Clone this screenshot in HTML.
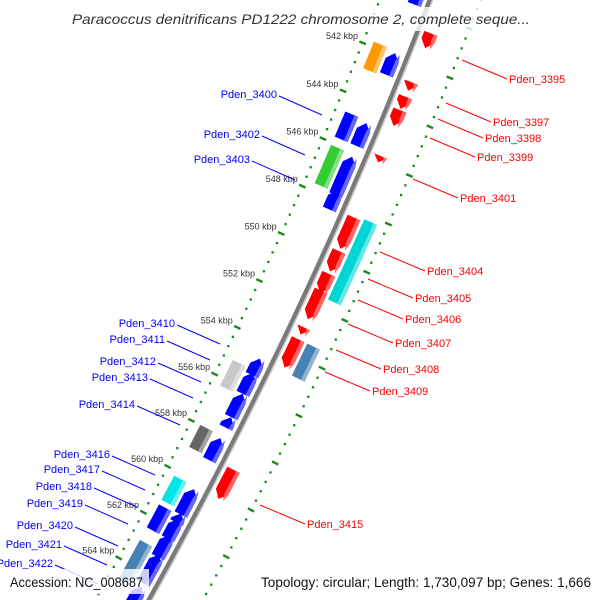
<!DOCTYPE html>
<html><head><meta charset="utf-8"><style>
html,body{margin:0;padding:0;background:#fff;overflow:hidden;}
svg{display:block;font-family:"Liberation Sans",sans-serif;}
</style></head><body>
<svg id="map" width="600" height="600" viewBox="0 0 600 600" xmlns="http://www.w3.org/2000/svg">
<rect width="600" height="600" fill="#fff"/>
<g id="rulers"></g>
<g id="backbone"></g>
<g id="genes"></g>
<g id="labels"></g>
<rect x="0" y="7" width="600" height="24" fill="#fff" opacity="0.8"/>
<text x="301" y="24" text-anchor="middle" font-size="14" font-style="italic" fill="#333" textLength="458" lengthAdjust="spacingAndGlyphs">Paracoccus denitrificans PD1222 chromosome 2, complete seque...</text>
<rect x="3" y="569" width="146" height="25" fill="#fff" opacity="0.8"/>
<text x="10" y="587" font-size="13.5" fill="#111" textLength="133" lengthAdjust="spacingAndGlyphs">Accession: NC_008687</text>
<text x="261" y="587" font-size="13.5" fill="#111" textLength="330" lengthAdjust="spacingAndGlyphs">Topology: circular; Length: 1,730,097 bp; Genes: 1,666</text>
</svg>
<script>
// ---- data ----
const blueInner = [[539.0,539.9],[541.9,542.8],[544.8,545.75],[546.2,547.8],[547.6,548.4],[554.7,555.4],[555.3,556.2],[556.2,557.2],[557.2,557.65],[558.1,559.05],[560.3,561.4],[561.35,561.75],[561.6,562.45],[562.3,563.25],[563.15,564.4],[564.55,565.4]];
const leftOuterStarts = [541.8,544.7,546.1,555.2,558.0,560.2,561.45,563.0];
const leftOuterEnds = [542.9,545.75,547.7,556.3,558.95,561.25,562.45,564.7];
const leftOuterColors = ["#ff9900","#0000ff","#33cc33","#c8c8c8","#666666","#00e5e5","#0000ff","#4682b4"];
const redInner = [[540.7,541.3],[542.7,543.05],[543.3,543.8],[543.85,544.5],[545.75,546.0],[548.3,549.6],[549.7,550.55],[550.65,551.45],[551.35,552.55],[552.9,553.2],[553.4,554.6],[558.95,560.2]];
const rightOuterStarts = [548.2,549.6,553.4];
const rightOuterEnds = [549.6,551.55,554.75];
const rightOuterColors = ["#00d5d5","#00d5d5","#4682b4"];
const majorTicks = [540,542,544,546,548,550,552,554,556,558,560,562,564,566];
const tickLabels = ["","542 kbp","544 kbp","546 kbp","548 kbp","550 kbp","552 kbp","554 kbp","556 kbp","558 kbp","560 kbp","562 kbp","564 kbp",""];
const rightLabels = ["Pden_3395","Pden_3397","Pden_3398","Pden_3399","Pden_3401","Pden_3404","Pden_3405","Pden_3406","Pden_3407","Pden_3408","Pden_3409","Pden_3415"];
const rightLabelX = [509,493,485,477,460,427,415,405,395,383,372,307];
const rightLabelY = [79,122,138,157,198,271,298,319,343,369,391,524];
const leftLabels = ["Pden_3400","Pden_3402","Pden_3403","Pden_3410","Pden_3411","Pden_3412","Pden_3413","Pden_3414","Pden_3416","Pden_3417","Pden_3418","Pden_3419","Pden_3420","Pden_3421","Pden_3422"];
const leftLabelX = [277,260,250,175,165,156,148,135,110,100,92,83,73,62,53];
const leftLabelY = [94,134,159,323,339,361,377,404,454,469,486,503,525,544,563];

// ---- geometry ----
const CX=-3972, CY=-1695, R=4717;
function th(k){return 0.4479+(k-554)*0.00555;}
function P(k,d){const t=th(k);return [CX+(R+d)*Math.cos(t), CY+(R+d)*Math.sin(t)];}
const NS="http://www.w3.org/2000/svg";
function mk(tag,parent){const e=document.createElementNS(NS,tag);parent.appendChild(e);return e;}
function poly(pts){return pts.map(p=>p[0].toFixed(1)+","+p[1].toFixed(1)).join(" ");}
function arcPts(k1,k2,d){const n=4,out=[];for(let i=0;i<=n;i++){out.push(P(k1+(k2-k1)*i/n,d));}return out;}
function shape(k1,k2,r1,r2,dir){
  const h=0.3, mid=(r1+r2)/2;
  if(dir===0){return arcPts(k1,k2,r1).concat(arcPts(k2,k1,r2));}
  if(dir>0){
    if(k2-k1<=h) return [P(k1,r1),P(k2,mid),P(k1,r2)];
    return arcPts(k1,k2-h,r1).concat([P(k2,mid)]).concat(arcPts(k2-h,k1,r2));
  }
  if(k2-k1<=h) return [P(k2,r1),P(k1,mid),P(k2,r2)];
  return arcPts(k2,k1+h,r1).concat([P(k1,mid)]).concat(arcPts(k1+h,k2,r2));
}
function lighten(c){
  const n=parseInt(c.slice(1),16);let r=n>>16,g=(n>>8)&255,b=n&255;
  r=Math.round(r+(255-r)*0.4);g=Math.round(g+(255-g)*0.4);b=Math.round(b+(255-b)*0.4);
  return "rgb("+r+","+g+","+b+")";
}

// rulers
const rul=document.getElementById('rulers');
[-47,47].forEach(function(d){
  for(let i=0;i<=75;i++){
    const k=538+i*0.4;
    if(Math.abs((k/2)-Math.round(k/2))<0.01) continue;
    const p=P(k,d);
    const dot=mk('rect',rul);
    
    
    dot.setAttribute('x',(p[0]-1.1).toFixed(1));dot.setAttribute('y',(p[1]-1.1).toFixed(1));
    dot.setAttribute('width','2.3');dot.setAttribute('height','2.3');dot.setAttribute('fill','#1a8a1a');
  }
  majorTicks.forEach(function(k,i){
    const a=P(k,d-3.5),b=P(k,d+3.5);
    const ln=mk('line',rul);
    
    
    ln.setAttribute('x1',a[0]);ln.setAttribute('y1',a[1]);ln.setAttribute('x2',b[0]);ln.setAttribute('y2',b[1]);
    ln.setAttribute('stroke','#1a8a1a');ln.setAttribute('stroke-width','2.4');
    if(d<0 && tickLabels[i]){
      const q=P(k,-52);
      const t=mk('text',rul);
      
      
      t.setAttribute('x',(q[0]).toFixed(1));t.setAttribute('y',(q[1]-2).toFixed(1));
      t.setAttribute('text-anchor','end');t.setAttribute('font-size','9');t.setAttribute('fill','#333');
      t.textContent=tickLabels[i];
    }
  });
});

// backbone
const bb=document.getElementById('backbone');
function arcPath(k1,k2,d){let s="";for(let i=0;i<=40;i++){const p=P(k1+(k2-k1)*i/40,d);s+=(i?"L":"M")+p[0].toFixed(1)+" "+p[1].toFixed(1);}return s;}
const b1=mk('path',bb);


b1.setAttribute('d',arcPath(537,567,0));b1.setAttribute('stroke','#7a7a7a');b1.setAttribute('stroke-width','5');b1.setAttribute('fill','none');
const b2=mk('path',bb);


b2.setAttribute('d',arcPath(537,567,2.5));b2.setAttribute('stroke','#c8c8c8');b2.setAttribute('stroke-width','1.5');b2.setAttribute('fill','none');

// genes
const gg=document.getElementById('genes');
function drawGene(k1,k2,r1,r2,dir,color,name){
  const g=mk('polygon',gg);
  
  
  g.setAttribute('points',poly(shape(k1,k2,r1,r2,dir)));g.setAttribute('fill',color);
  const s=mk('polygon',gg);
  
  
  s.setAttribute('points',poly(shape(k1,k2,r2-4,r2,dir)));s.setAttribute('fill',lighten(color));
}
blueInner.forEach(function(f){drawGene(f[0],f[1],-20,-6,-1,"#0000ff","reverse-gene");});
leftOuterStarts.forEach(function(k,i){drawGene(k,leftOuterEnds[i],-37,-23,0,leftOuterColors[i],"outer-left-feature");});
redInner.forEach(function(f){drawGene(f[0],f[1],6,20,1,"#ff0000","forward-gene");});
rightOuterStarts.forEach(function(k,i){drawGene(k,rightOuterEnds[i],23,37,0,rightOuterColors[i],"outer-right-feature");});

// labels
const lg=document.getElementById('labels');
rightLabels.forEach(function(lbl,i){
  const x=rightLabelX[i],y=rightLabelY[i];
  const ln=mk('line',lg);
  
  
  ln.setAttribute('x1',x-47);ln.setAttribute('y1',y-19);ln.setAttribute('x2',x-2);ln.setAttribute('y2',y);
  ln.setAttribute('stroke','#ff0000');ln.setAttribute('stroke-width','1');
  const t=mk('text',lg);
  
  
  t.setAttribute('x',x);t.setAttribute('y',y+4);t.setAttribute('font-size','11');t.setAttribute('fill','#ff0000');
  t.textContent=lbl;
});
leftLabels.forEach(function(lbl,i){
  const x=leftLabelX[i],y=leftLabelY[i];
  const ln=mk('line',lg);
  
  
  ln.setAttribute('x1',x+2);ln.setAttribute('y1',y+2);ln.setAttribute('x2',x+45);ln.setAttribute('y2',y+21);
  ln.setAttribute('stroke','#0000ff');ln.setAttribute('stroke-width','1');
  const t=mk('text',lg);
  
  
  t.setAttribute('x',x);t.setAttribute('y',y+4);t.setAttribute('text-anchor','end');t.setAttribute('font-size','11');t.setAttribute('fill','#0000ff');
  t.textContent=lbl;
});
</script>
</body></html>
